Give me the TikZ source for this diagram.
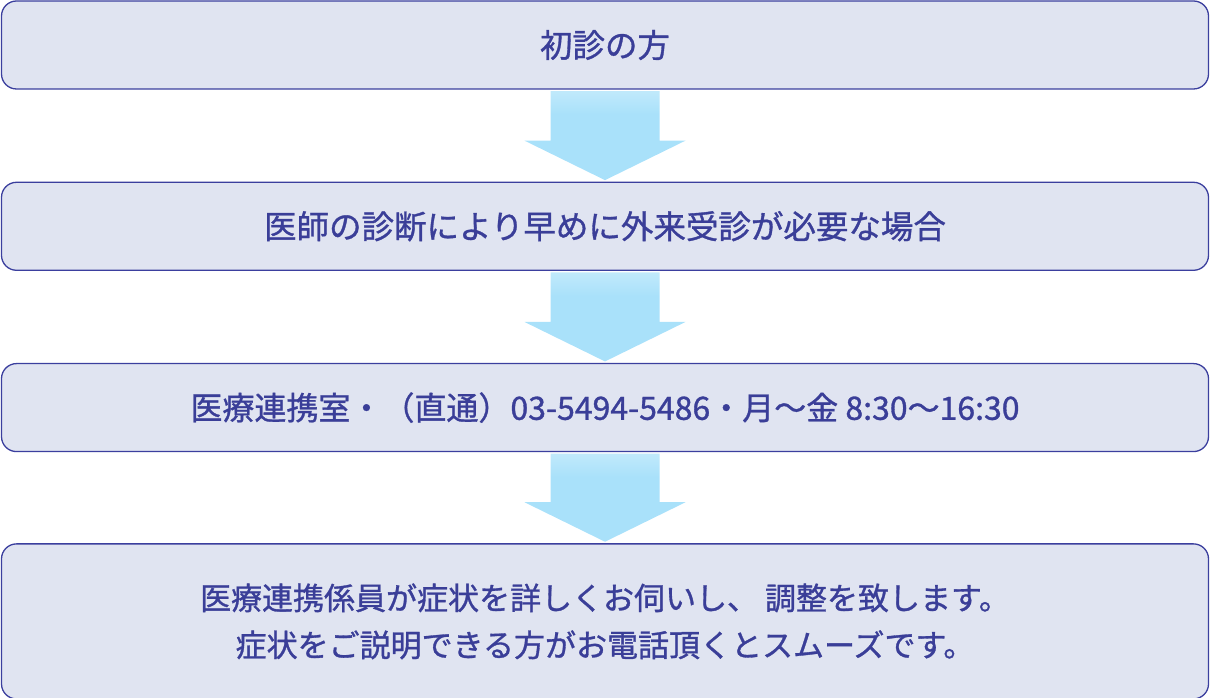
\documentclass[tikz,border=0pt]{standalone}
\usepackage{fontspec}
\setmainfont{Noto Sans CJK JP}[AutoFakeBold=1.0]
\usepackage{tikz}
\usetikzlibrary{positioning, calc}
\definecolor{boxfill}{HTML}{E0E4F1}
\definecolor{boxline}{HTML}{3B3F9E}
\definecolor{textblue}{HTML}{3A3E98}
\definecolor{arrowblue}{HTML}{A9E1FA}
\definecolor{arrowtop}{HTML}{EDF9FE}
\pgfdeclareverticalshading{arrowshade}{100bp}{color(0bp)=(arrowblue); color(62bp)=(arrowblue); color(100bp)=(arrowtop)}
\tikzset{
  stepbox/.style={rectangle, rounded corners=15pt, minimum width=1207pt, minimum height=88pt, text centered, align=center, draw=boxline, line width=1.3pt, fill=boxfill, text=textblue, font=\fontsize{32.5}{48}\selectfont\bfseries},
  downarrow/.style={shading=arrowshade, draw=none}
}
\begin{document}
\begin{tikzpicture}[x=1pt, y=1pt, node distance=92pt]
    \useasboundingbox (0,0) rectangle (1210,698);
    \node (first) [stepbox] at (605,653) {初診の方};
    \node (urgent) [stepbox, below=of first] {医師の診断により早めに外来受診が必要な場合};
    \node (office) [stepbox, below=of urgent, font=\fontsize{32}{48}\selectfont\bfseries] {医療連携室・（直通）03-5494-5486・月～金 8:30～16:30};
    \node (staff) [stepbox, below=91pt of office, minimum height=155pt, font=\fontsize{31}{47}\selectfont\bfseries] {医療連携係員が症状を詳しくお伺いし、 調整を致します。\\症状をご説明できる方がお電話頂くとスムーズです。};

    % wide arrows between the steps
    \foreach \a/\b in {first/urgent, urgent/office, office/staff}
      \shade[downarrow] ($(\a.south)+(-54.5,-1.5)$) -- ($(\a.south)+(54.5,-1.5)$)
        -- ($(\b.north)+(54.5,41)$) -- ($(\b.north)+(80.5,41)$) -- ($(\b.north)+(0,1.5)$)
        -- ($(\b.north)+(-80.5,41)$) -- ($(\b.north)+(-54.5,41)$) -- cycle;
\end{tikzpicture}
\end{document}
